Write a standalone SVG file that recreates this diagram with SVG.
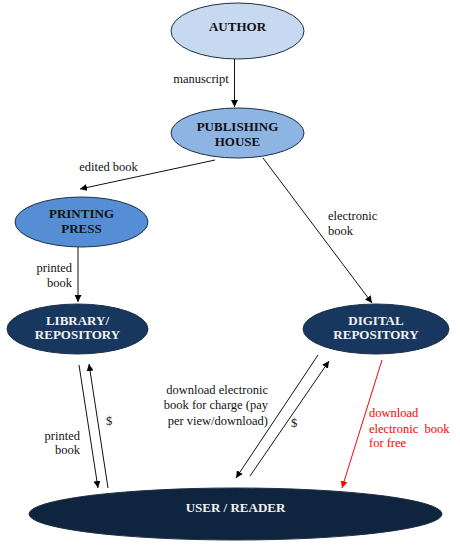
<svg xmlns="http://www.w3.org/2000/svg" width="460" height="550" viewBox="0 0 460 550">
<defs>
<marker id="ah" viewBox="0 0 10 10" refX="10" refY="5" markerWidth="7" markerHeight="7" markerUnits="userSpaceOnUse" orient="auto"><path d="M0,0 L10,5 L0,10 z" fill="#000"/></marker>
<marker id="ahr" viewBox="0 0 10 10" refX="10" refY="5" markerWidth="7" markerHeight="7" markerUnits="userSpaceOnUse" orient="auto"><path d="M0,0 L10,5 L0,10 z" fill="#ff0000"/></marker>
<style>
.node ellipse{stroke:#1f2f44;stroke-width:1}
.nt{font-family:"Liberation Serif","Times New Roman",serif;font-weight:bold;font-size:13px;text-anchor:middle}
.dark{fill:#f2f2f2}
.lt{fill:#111}
.lbl{font-family:"Liberation Serif","Times New Roman",serif;font-size:12.5px;fill:#111}
.red{fill:#ff0000}
.c line{stroke:#111;stroke-width:1;marker-end:url(#ah)}
.c line.r{stroke:#ff0000;marker-end:url(#ahr)}
</style>
</defs>
<rect width="460" height="550" fill="#fff"/>
<g id="connectors" class="c">
<line x1="234.5" y1="59" x2="234.5" y2="107"/>
<line x1="215" y1="160" x2="80" y2="189"/>
<line x1="263" y1="158" x2="372" y2="303"/>
<line x1="78" y1="247" x2="78" y2="302"/>
<line x1="79" y1="365" x2="98" y2="488"/>
<line x1="108" y1="488" x2="89" y2="364"/>
<line x1="318" y1="355" x2="236" y2="478"/>
<line x1="250" y1="476" x2="329" y2="361"/>
<line class="r" x1="382" y1="360" x2="342" y2="488"/>
</g>
<g id="labels">
<text class="lbl" x="201" y="83" text-anchor="middle">manuscript</text>
<text class="lbl" x="108.5" y="171" text-anchor="middle">edited book</text>
<text class="lbl" x="328" y="220">electronic</text>
<text class="lbl" x="328" y="235">book</text>
<text class="lbl" x="72" y="272" text-anchor="end">printed</text>
<text class="lbl" x="72" y="287" text-anchor="end">book</text>
<text class="lbl" x="106" y="425">$</text>
<text class="lbl" x="80" y="440" text-anchor="end">printed</text>
<text class="lbl" x="80" y="454" text-anchor="end">book</text>
<text class="lbl" x="268" y="394" text-anchor="end">download electronic</text>
<text class="lbl" x="268" y="409" text-anchor="end">book for charge (pay</text>
<text class="lbl" x="268" y="425" text-anchor="end">per view/download)</text>
<text class="lbl" x="291" y="427">$</text>
<text class="lbl red" x="369" y="417">download</text>
<text class="lbl red" x="369" y="433" xml:space="preserve">electronic  book</text>
<text class="lbl red" x="369" y="447">for free</text>
</g>
<g id="author" class="node">
<ellipse cx="237.5" cy="31" rx="66.5" ry="28" fill="#c6d9f1"/>
<text class="nt lt" x="237.5" y="31">AUTHOR</text>
</g>
<g id="publishing" class="node">
<ellipse cx="237.5" cy="133" rx="66.5" ry="25" fill="#8eb4e3"/>
<text class="nt lt" x="237.5" y="131">PUBLISHING</text>
<text class="nt lt" x="237.5" y="146">HOUSE</text>
</g>
<g id="printing" class="node">
<ellipse cx="81.5" cy="222" rx="66.5" ry="25" fill="#558ed5"/>
<text class="nt lt" x="81.5" y="218">PRINTING</text>
<text class="nt lt" x="81.5" y="233">PRESS</text>
</g>
<g id="library" class="node">
<ellipse cx="77.5" cy="329" rx="70.5" ry="25" fill="#17375e"/>
<text class="nt dark" x="77.5" y="325">LIBRARY/</text>
<text class="nt dark" x="77.5" y="339">REPOSITORY</text>
</g>
<g id="digital" class="node">
<ellipse cx="376" cy="329" rx="73" ry="25" fill="#17375e"/>
<text class="nt dark" x="376" y="325">DIGITAL</text>
<text class="nt dark" x="376" y="339">REPOSITORY</text>
</g>
<g id="user" class="node">
<ellipse cx="235.5" cy="514" rx="206.5" ry="26" fill="#0f243e"/>
<text class="nt dark" x="235.5" y="512">USER / READER</text>
</g>
</svg>
